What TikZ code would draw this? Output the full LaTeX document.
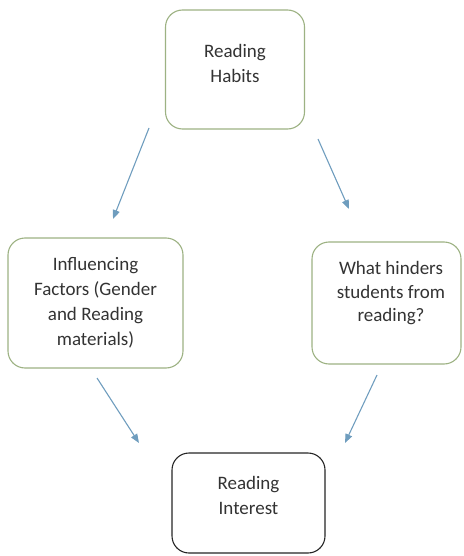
\documentclass[tikz,border=0pt]{standalone}
\usepackage{fontspec}
\setmainfont{Carlito}
\usetikzlibrary{arrows.meta}
\definecolor{boxgreen}{HTML}{9DB283}
\definecolor{arrowblue}{HTML}{6F9DBE}
\definecolor{txtgray}{HTML}{333333}
\tikzset{
  box/.style={draw=boxgreen, line width=1.1pt, rounded corners=17pt, fill=white},
  darkbox/.style={draw=black!85, line width=1.1pt, rounded corners=17pt, fill=white},
  lbl/.style={text=txtgray, align=center, font=\fontsize{19}{25}\selectfont, inner sep=0pt},
  flow/.style={draw=arrowblue, line width=1.1pt, -{Triangle[length=9pt,width=7pt]}}
}
\begin{document}
\begin{tikzpicture}[x=1pt,y=-1pt]
\useasboundingbox (0,0) rectangle (463,556);
% boxes
\node[box, minimum width=139pt, minimum height=119pt] (habits) at (235,69.5) {};
\node[box, minimum width=175pt, minimum height=130pt] (factors) at (95.5,303) {};
\node[box, minimum width=149pt, minimum height=122pt] (hinders) at (386.5,303) {};
\node[darkbox, minimum width=153pt, minimum height=100pt] (interest) at (248.5,503) {};
% texts
\node[lbl] (thabits) at (235,63.5) {Reading\\Habits};
\node[lbl] (tfactors) at (95.5,302.5) {Influencing\\Factors (Gender\\and Reading\\materials)};
\node[lbl, font=\fontsize{19}{23.5}\selectfont] (thinders) at (391,293.5) {What hinders\\students from\\reading?};
\node[lbl] (tinterest) at (248.5,495.5) {Reading\\Interest};
% arrow endpoints
\coordinate (a1s) at (149,128);
\coordinate (a1e) at (113,219);
\coordinate (a2s) at (318,139);
\coordinate (a2e) at (349,209);
\coordinate (a3s) at (97,378);
\coordinate (a3e) at (139,443);
\coordinate (a4s) at (377,375);
\coordinate (a4e) at (345,443);
\draw[flow] (a1s) -- (a1e);
\draw[flow] (a2s) -- (a2e);
\draw[flow] (a3s) -- (a3e);
\draw[flow] (a4s) -- (a4e);
\end{tikzpicture}
\end{document}
